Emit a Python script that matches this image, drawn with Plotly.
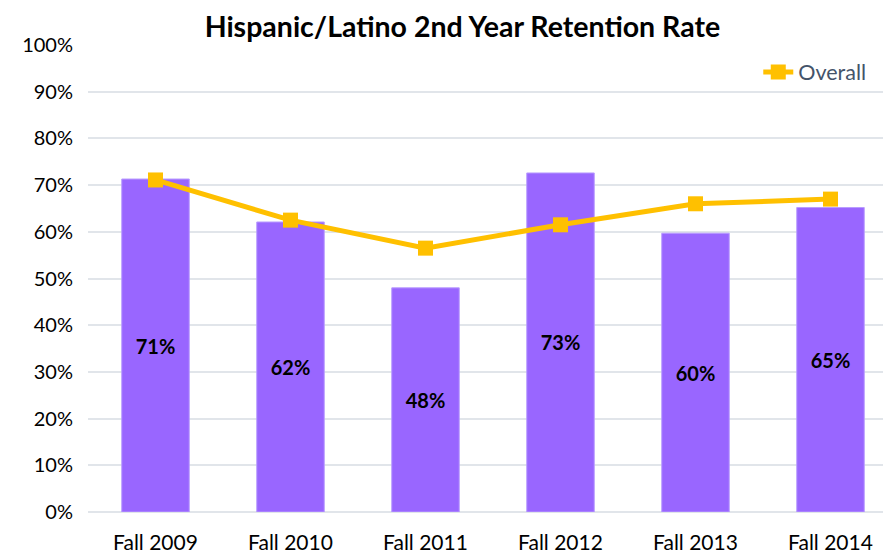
import plotly.graph_objects as go

categories = ["Fall 2009", "Fall 2010", "Fall 2011", "Fall 2012", "Fall 2013", "Fall 2014"]
hispanic_rate = [71.3, 62.1, 48.0, 72.6, 59.7, 65.2]
overall_rate = [71.1, 62.5, 56.5, 61.5, 66.0, 67.0]
bar_labels = ["71%", "62%", "48%", "73%", "60%", "65%"]
y_ticks = [0, 10, 20, 30, 40, 50, 60, 70, 80, 90, 100]

font_family = "Lato, 'Open Sans', sans-serif"

fig = go.Figure()

# Hispanic/Latino bars
fig.add_trace(go.Bar(
    x=categories,
    y=hispanic_rate,
    text=[f"<b>{t}</b>" for t in bar_labels],
    textposition="inside",
    insidetextanchor="middle",
    textfont=dict(color="black", size=20, family=font_family),
    textangle=0,
    marker=dict(color="#9966FF", line=dict(color="#B99CFF", width=1)),
    width=0.5,
    showlegend=False,
    name="Hispanic/Latino"
))

# Overall line
fig.add_trace(go.Scatter(
    x=categories,
    y=overall_rate,
    mode="lines+markers",
    line=dict(color="#FFC000", width=5),
    marker=dict(symbol="square", size=15, color="#FFC000"),
    name="Overall"
))

fig.update_layout(
    width=891,
    height=558,
    margin=dict(l=80, r=1, t=37, b=54),
    paper_bgcolor="white",
    plot_bgcolor="white",
    title=dict(
        text="<b>Hispanic/Latino 2nd Year Retention Rate</b>",
        x=0.51, xanchor="center", y=0.966, yanchor="middle",
        font=dict(size=28.5, color="black", family=font_family)
    ),
    legend=dict(
        x=0.967, y=0.942, xanchor="right", yanchor="middle",
        font=dict(size=21.5, color="#44546A", family=font_family),
        bgcolor="rgba(0,0,0,0)"
    ),
    font=dict(family=font_family),
    bargap=0.5
)

fig.update_xaxes(
    range=[-0.5, 5.5],
    showgrid=False,
    showline=False,
    ticks="",
    ticklabelstandoff=16,
    tickfont=dict(size=21, color="black", family=font_family)
)

fig.update_yaxes(
    range=[0, 100],
    tickvals=y_ticks,
    ticktext=[f"{v}%" for v in y_ticks],
    showgrid=True,
    gridcolor="#E1E5EA",
    gridwidth=2,
    zeroline=True,
    zerolinecolor="#E1E5EA",
    zerolinewidth=2,
    ticks="",
    ticklabelstandoff=14,
    tickfont=dict(size=20, color="black", family=font_family)
)

fig.write_html("out.html")
